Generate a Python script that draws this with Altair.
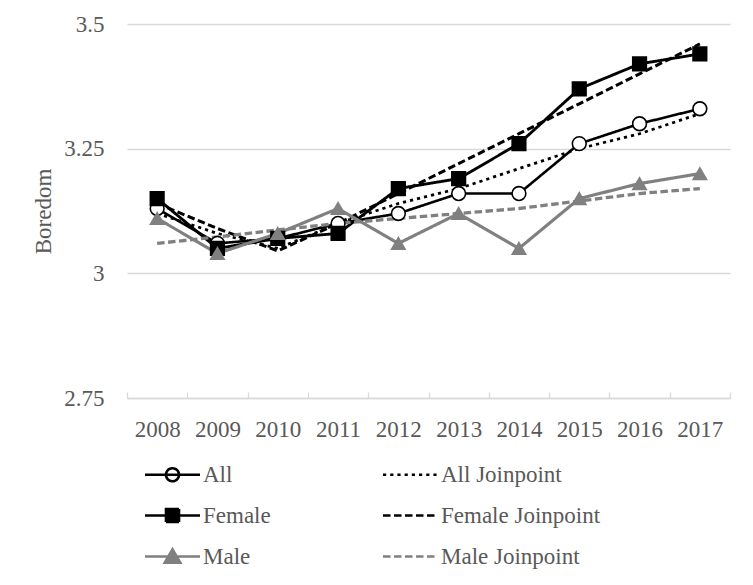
import altair as alt
import pandas as pd

years = [2008, 2009, 2010, 2011, 2012, 2013, 2014, 2015, 2016, 2017]
all_vals = [3.13, 3.06, 3.07, 3.10, 3.12, 3.16, 3.16, 3.26, 3.30, 3.33]
female_vals = [3.15, 3.05, 3.07, 3.08, 3.17, 3.19, 3.26, 3.37, 3.42, 3.44]
male_vals = [3.11, 3.04, 3.08, 3.13, 3.06, 3.12, 3.05, 3.15, 3.18, 3.20]
all_jp = [3.12, 3.08, 3.05, 3.10, 3.14, 3.17, 3.21, 3.25, 3.28, 3.32]
female_jp = [3.14, 3.09, 3.045, 3.10, 3.16, 3.22, 3.28, 3.34, 3.40, 3.46]
male_jp = [3.06, 3.073, 3.087, 3.10, 3.11, 3.12, 3.13, 3.145, 3.16, 3.17]
y_ticks = [2.75, 3.0, 3.25, 3.5]

series_names = ["All", "All Joinpoint", "Female", "Female Joinpoint", "Male", "Male Joinpoint"]
series_vals = [all_vals, all_jp, female_vals, female_jp, male_vals, male_jp]
marker_series = ["All", "Female", "Male"]
legend_order = ["All", "Female", "Male", "All Joinpoint", "Female Joinpoint", "Male Joinpoint"]

rows = []
for name, vals in zip(series_names, series_vals):
    for yr, v in zip(years, vals):
        rows.append({"year": yr, "value": v, "series": name})
df = pd.DataFrame(rows)

boundaries = [y - 0.5 for y in years] + [years[-1] + 0.5]

FONT = "Liberation Serif"
FS = 23
TXT = "#595959"
GRID = "#d9d9d9"
BLACK = "#000000"
GRAY = "#808080"

stroke_of = {"All": BLACK, "All Joinpoint": BLACK, "Female": BLACK,
             "Female Joinpoint": BLACK, "Male": GRAY, "Male Joinpoint": GRAY}
dash_of = {"All": [1, 0], "All Joinpoint": [3.2, 4], "Female": [1, 0],
           "Female Joinpoint": [7.5, 3.5], "Male": [1, 0], "Male Joinpoint": [7.5, 3.5]}
width_of = {"All": 2.6, "All Joinpoint": 3.3, "Female": 2.6,
            "Female Joinpoint": 2.6, "Male": 2.6, "Male Joinpoint": 2.6}
legend_shape_of = {
    "All": "M-2.75,0H2.75M-0.65,0A0.65,0.65 0 1,0 0.65,0A0.65,0.65 0 1,0 -0.65,0Z",
    "All Joinpoint": "M-2.75,0H2.75",
    "Female": "M-2.75,0H2.75M-0.65,-0.65H0.65V0.65H-0.65Z",
    "Female Joinpoint": "M-2.75,0H2.75",
    "Male": "M-2.75,0H2.75M0,-0.72L0.78,0.62H-0.78Z",
    "Male Joinpoint": "M-2.75,0H2.75",
}
legend_fill_of = {"All": "#ffffff", "All Joinpoint": "transparent", "Female": BLACK,
                  "Female Joinpoint": "transparent", "Male": GRAY, "Male Joinpoint": "transparent"}

xscale = alt.Scale(domain=[years[0] - 0.5, years[-1] + 0.5], nice=False, zero=False)
yscale = alt.Scale(domain=[y_ticks[0], y_ticks[-1]], nice=False, zero=False)

yaxis = alt.Axis(values=y_ticks, labelExpr="toString(datum.value)", ticks=False, domain=False,
                 gridColor=GRID, gridWidth=1.3, labelPadding=23,
                 labelFont=FONT, labelFontSize=FS, labelColor=TXT,
                 title="Boredom", titleFont=FONT, titleFontSize=FS,
                 titleFontWeight="normal", titleColor=TXT, titlePadding=8)

lines = alt.Chart(df).mark_line(strokeCap="butt").encode(
    x=alt.X("year:Q", scale=xscale,
            axis=alt.Axis(values=years, format="d", ticks=False, grid=False,
                          domainColor=GRID, domainWidth=1.3, labelPadding=20,
                          labelFont=FONT, labelFontSize=FS, labelColor=TXT,
                          labelFlush=False, labelOverlap=False, title=None,
                          orient="bottom")),
    y=alt.Y("value:Q", scale=yscale, axis=yaxis),
    stroke=alt.Stroke("series:N", scale=alt.Scale(domain=series_names,
                      range=[stroke_of[s] for s in series_names]), legend=None),
    strokeDash=alt.StrokeDash("series:N", scale=alt.Scale(domain=series_names,
                              range=[dash_of[s] for s in series_names]), legend=None),
    strokeWidth=alt.StrokeWidth("series:N", scale=alt.Scale(domain=series_names,
                                range=[width_of[s] for s in series_names]), legend=None),
)

pts = alt.Chart(df).transform_filter(
    alt.FieldOneOfPredicate(field="series", oneOf=marker_series)
).mark_point(opacity=1, strokeWidth=1.6).encode(
    x=alt.X("year:Q", scale=xscale,
            axis=alt.Axis(values=boundaries, labels=False, domain=False, grid=False,
                          tickSize=6, offset=-6, tickColor=GRID, tickWidth=1.3,
                          title=None, orient="bottom")),
    y=alt.Y("value:Q", scale=yscale, axis=yaxis),
    shape=alt.Shape("series:N", scale=alt.Scale(domain=marker_series,
                    range=["circle", "square", "triangle-up"]), legend=None),
    fill=alt.Fill("series:N", scale=alt.Scale(domain=marker_series,
                  range=["#ffffff", BLACK, GRAY]), legend=None),
    stroke=alt.Stroke("series:N", scale=alt.Scale(domain=marker_series,
                      range=[BLACK, BLACK, GRAY]), legend=None),
    size=alt.Size("series:N", scale=alt.Scale(domain=marker_series,
                  range=[190, 180, 230]), legend=None),
)

leg = alt.Chart(df).transform_filter("false").mark_point(opacity=1, size=400, strokeWidth=2.6).encode(
    shape=alt.Shape("series:N", scale=alt.Scale(domain=legend_order,
                    range=[legend_shape_of[s] for s in legend_order]),
                    legend=alt.Legend(title=None, orient="none", legendX=34, legendY=439,
                                      columns=2, columnPadding=106, rowPadding=16,
                                      labelFont=FONT, labelFontSize=FS, labelColor=TXT,
                                      labelOffset=19, symbolSize=400, symbolStrokeWidth=2.6,
                                      symbolOpacity=1, labelLimit=400, padding=0)),
    fill=alt.Fill("series:N", scale=alt.Scale(domain=legend_order,
                  range=[legend_fill_of[s] for s in legend_order])),
    stroke=alt.Stroke("series:N", scale=alt.Scale(domain=legend_order,
                      range=[stroke_of[s] for s in legend_order])),
    strokeDash=alt.StrokeDash("series:N", scale=alt.Scale(domain=legend_order,
                              range=[dash_of[s] for s in legend_order])),
)

chart = alt.layer(lines, pts, leg).resolve_scale(
    stroke="independent", strokeDash="independent", shape="independent",
    fill="independent", size="independent", strokeWidth="independent"
).resolve_axis(x="independent").properties(
    width=603, height=374,
    padding={"left": 24, "top": 5, "right": 5, "bottom": 5},
).configure_view(stroke=None)

chart.save("out.html", embed_options={"renderer": "svg", "actions": False})
